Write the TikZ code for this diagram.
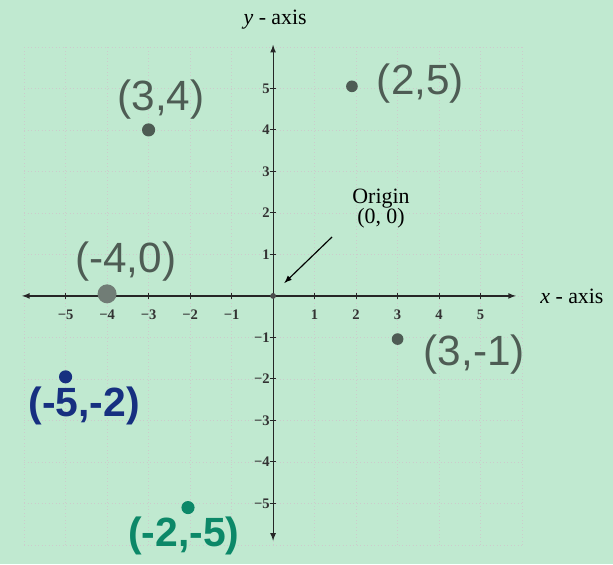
\documentclass[tikz,border=0pt]{standalone}
\usepackage{fontspec}
\setmainfont{Liberation Serif}
\newfontfamily\handfont{Liberation Sans}
\definecolor{paper}{RGB}{192,233,208}
\definecolor{pencil}{RGB}{78,92,84}
\definecolor{navy}{RGB}{22,48,128}
\definecolor{tealpen}{RGB}{12,136,104}
\tikzset{
  tick/.style={font=\bfseries\fontsize{10}{11}\selectfont,text=black!80},
  axlab/.style={font=\fontsize{15}{16}\selectfont},
  hand/.style={font=\handfont\fontsize{29}{30}\selectfont},
  boldhand/.style={font=\handfont\bfseries\fontsize{28}{30}\selectfont},
  dot/.style={circle,inner sep=0pt,minimum size=#1,fill=pencil},
}
\begin{document}
\begin{tikzpicture}[>=latex]
        \fill [color=paper] (-6.58,-6.46) rectangle (8.19,7.13);
        \useasboundingbox (-6.58,-6.46) rectangle (8.19,7.13);
        \draw [gray!40,dotted,thin] (-6,-6) grid (6,6);
        % axes
        \coordinate (xl) at (-6.05,0);
        \coordinate (xr) at (5.85,0);
        \coordinate (yt) at (0,6.05);
        \coordinate (yb) at (0,-5.9);
        \draw [<->,thick,black!85] (xl) -- (xr);
        \draw [<->,thick,black!85] (yb) -- (yt);
        \node [axlab] (xlab) at (7.2,-0.02) {\textit{x} - axis};
        \node [axlab] (ylab) at (0.05,6.65) {\textit{y} - axis};
        \foreach \i/\t in {-5/−5,-4/−4,-3/−3,-2/−2,-1/−1,1/1,2/2,3/3,4/4,5/5}{
            \draw [black!85,semithick] (\i,-0.08) -- (\i,0.08);
            \draw [black!85,semithick] (-0.08,\i) -- (0.08,\i);
            \node [tick] (xt\i) at (\i,-0.45) {\t};
            \node [tick,left,inner sep=1pt] (yt\i) at (-0.04,\i) {\t};
        }
        % origin
        \node [dot=4pt,fill=black!70] (o) at (0,0) {};
        \node [axlab,align=center,inner sep=0pt] (orig) at (2.6,2.1) {Origin\\[-2pt](0, 0)};
        \coordinate (otail) at (1.42,1.42);
        \coordinate (ohead) at (0.27,0.31);
        \draw [->,thick] (otail) -- (ohead);
        % points
        \node [dot=9pt] (p1) at (-3,4) {};
        \node [hand,text=pencil] (l1) at (-2.7,4.72) {(3,4)};
        \node [dot=8pt] (p2) at (1.9,5.05) {};
        \node [hand,text=pencil] (l2) at (3.55,5.12) {(2,5)};
        \node [dot=13pt,fill=pencil!80] (p3) at (-4,0.05) {};
        \node [hand,text=pencil] (l3) at (-3.55,0.82) {(-4,0)};
        \node [dot=8pt] (p4) at (3,-1.04) {};
        \node [hand,text=pencil] (l4) at (4.85,-1.42) {(3,-1)};
        \node [dot=9pt,fill=navy] (p5) at (-5,-1.95) {};
        \node [boldhand,text=navy] (l5) at (-4.55,-2.65) {(-5,-2)};
        \node [dot=9pt,fill=tealpen] (p6) at (-2.05,-5.1) {};
        \node [boldhand,text=tealpen] (l6) at (-2.15,-5.78) {(-2,-5)};
\end{tikzpicture}
\end{document}
